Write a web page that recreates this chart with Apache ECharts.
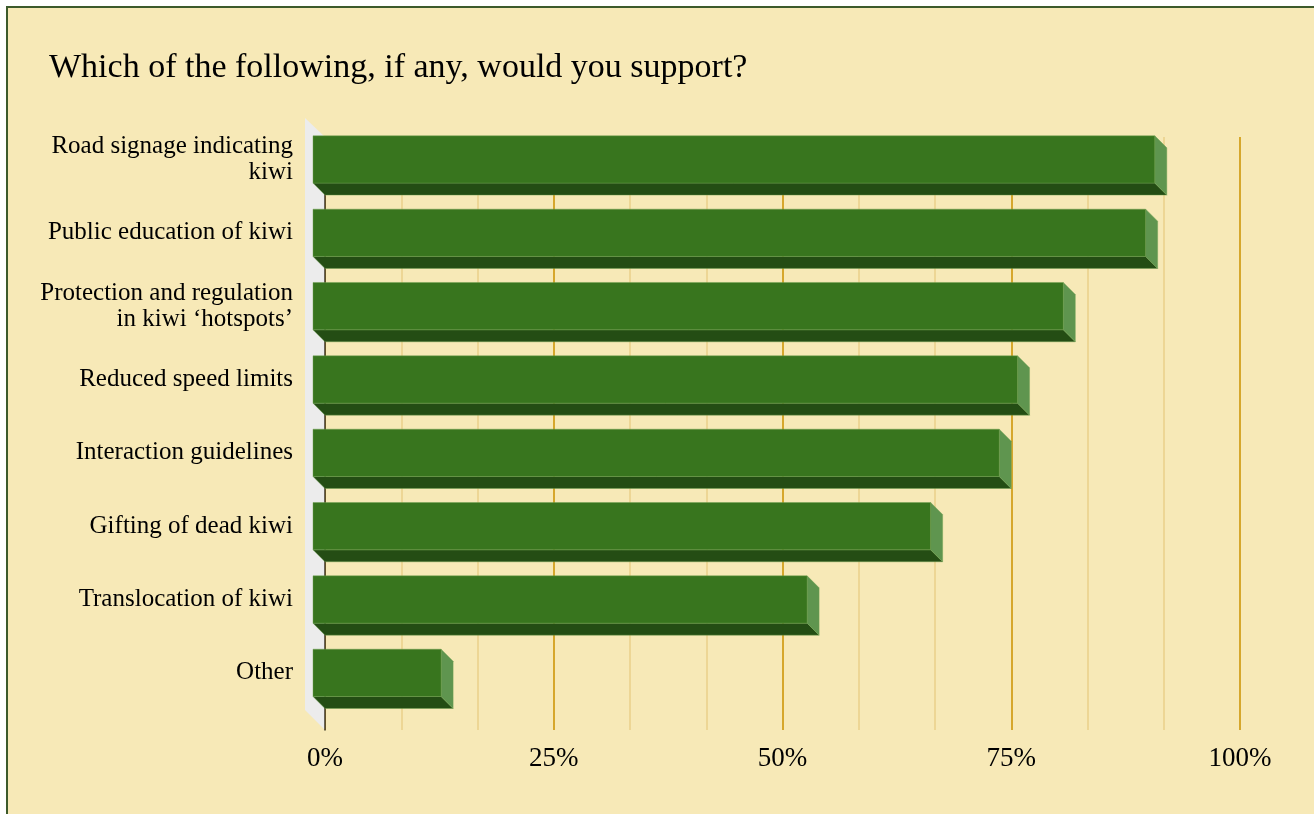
<!DOCTYPE html>
<html>
<head>
<meta charset="utf-8">
<script src="https://cdn.jsdelivr.net/npm/echarts@6/dist/echarts.min.js"></script>
<style>
  html, body { margin: 0; padding: 0; background: #ffffff; overflow: hidden; }
  #frame {
    position: absolute; left: 6px; top: 6px; width: 1330px; height: 830px;
    background: #f7e9b7; border-left: 2px solid #3d5a2b; border-top: 2px solid #3d5a2b;
  }
  #chart { position: absolute; left: 0; top: 0; width: 1314px; height: 814px; }
</style>
</head>
<body>
<div id="frame"></div>
<div id="chart"></div>
<script>
// Survey question and answer options
const chartTitle = 'Which of the following, if any, would you support?';
const categories = [
  'Road signage indicating\nkiwi',
  'Public education of kiwi',
  'Protection and regulation\nin kiwi \u2018hotspots\u2019',
  'Reduced speed limits',
  'Interaction guidelines',
  'Gifting of dead kiwi',
  'Translocation of kiwi',
  'Other'
];
// Share of respondents supporting each option (%)
const supportPct = [92, 91, 82, 77, 75, 67.5, 54, 14];
// Percentage axis ticks
const axisMin = 0;
const axisMax = 100;
const axisStep = 25;

const SERIF = '"Liberation Serif", "DejaVu Serif", serif';
const DEPTH = 12;

const chart = echarts.init(document.getElementById('chart'), null, { renderer: 'canvas' });

// Extruded bar: front face, underside and right-hand end
function renderBar(params, api) {
  const v = api.value(0);
  const c = api.value(1);
  const start = api.coord([0, c]);
  const end = api.coord([v, c]);
  const band = api.size([0, 1])[1];
  const h = band * 0.645;
  const x0 = start[0] - DEPTH;
  const x1 = end[0] - DEPTH;
  const yT = end[1] - h / 2;
  const yB = end[1] + h / 2;
  const edge = { stroke: 'rgba(110,160,80,0.55)', lineWidth: 0.8 };
  return {
    type: 'group',
    children: [
      {
        type: 'polygon',
        shape: { points: [[x0, yB], [x1, yB], [x1 + DEPTH, yB + DEPTH], [x0 + DEPTH, yB + DEPTH]] },
        style: Object.assign({ fill: '#244d14' }, edge)
      },
      {
        type: 'polygon',
        shape: { points: [[x1, yT], [x1 + DEPTH, yT + DEPTH], [x1 + DEPTH, yB + DEPTH], [x1, yB]] },
        style: Object.assign({ fill: '#5f954f' }, edge)
      },
      {
        type: 'rect',
        shape: { x: x0, y: yT, width: x1 - x0, height: yB - yT },
        style: Object.assign({ fill: '#38751e' }, edge)
      }
    ]
  };
}

// Grey side wall along the category axis
function renderWall(params, api) {
  const top = api.coord([0, 1]);
  const bot = api.coord([0, 0]);
  const w = 20;
  return {
    type: 'polygon',
    shape: { points: [[top[0] - w, top[1] - w + 1], [top[0], top[1]], [bot[0], bot[1]], [bot[0] - w, bot[1] - w]] },
    style: { fill: '#ececec' }
  };
}

const option = {
  animation: false,
  backgroundColor: 'transparent',
  title: {
    text: chartTitle,
    left: 44,
    top: 46,
    textStyle: { fontFamily: SERIF, fontSize: 34, fontWeight: 'normal', color: '#000000' }
  },
  grid: [
    { left: 325, top: 137, width: 915, height: 593 },
    { left: 325, top: 122.8, width: 915, height: 586.7 }
  ],
  xAxis: [
    {
      gridIndex: 0, type: 'value', min: axisMin, max: axisMax, interval: axisStep,
      axisLine: { show: false }, axisTick: { show: false },
      axisLabel: {
        formatter: '{value}%', margin: 15,
        fontFamily: SERIF, fontSize: 27, color: '#000000'
      },
      splitLine: { show: true, lineStyle: { color: '#d6a72c', width: 2 } },
      minorTick: { show: false, splitNumber: 3 },
      minorSplitLine: { show: true, lineStyle: { color: '#ead08a', width: 1.5 } },
      z: 0
    },
    {
      gridIndex: 1, type: 'value', min: axisMin, max: axisMax, interval: axisStep,
      show: false
    }
  ],
  yAxis: [
    {
      gridIndex: 0, type: 'value', min: 0, max: 1,
      axisLine: { show: true, onZero: false, lineStyle: { color: '#3b3526', width: 1.5 } },
      axisTick: { show: false }, axisLabel: { show: false }, splitLine: { show: false },
      z: 3
    },
    {
      gridIndex: 1, type: 'category', inverse: true, data: categories,
      axisLine: { show: false }, axisTick: { show: false },
      axisLabel: {
        margin: 32, fontFamily: SERIF, fontSize: 25, lineHeight: 26,
        color: '#000000', align: 'right', padding: [4, 0, 0, 0]
      },
      splitLine: { show: false }
    }
  ],
  series: [
    {
      type: 'custom', name: 'wall', xAxisIndex: 0, yAxisIndex: 0,
      data: [[0, 0]], renderItem: renderWall, silent: true, z: 1
    },
    {
      type: 'custom', name: 'Support', xAxisIndex: 1, yAxisIndex: 1,
      encode: { x: 0, y: 1 },
      data: supportPct.map((v, i) => [v, i]),
      renderItem: renderBar, z: 5
    }
  ]
};

chart.setOption(option);
</script>
</body>
</html>
